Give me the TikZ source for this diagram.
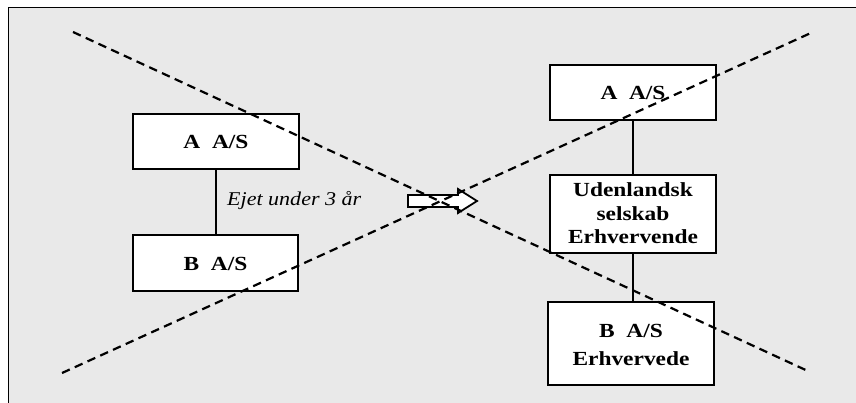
\documentclass[tikz,border=0pt]{standalone}
\usepackage{fontspec}
\usepackage{graphicx}
\setmainfont{Liberation Serif}
\definecolor{panel}{HTML}{E9E9E9}
% slightly widened text, as set in the chart, optionally set a little lower
\newcommand{\wide}[2][0pt]{\raisebox{-#1}[\height][\depth]{\scalebox{1.17}[1]{\begin{tabular}{@{}c@{}}#2\end{tabular}}}}
\tikzset{
  company/.style={draw=black, line width=2.3pt, fill=white, inner sep=0pt,
    font=\fontsize{20}{23.5}\selectfont\bfseries},
  link/.style={draw=black, line width=1.6pt},
  cross/.style={draw=black, line width=2.2pt, dash pattern=on 8.5pt off 5.5pt},
  note/.style={font=\fontsize{19.5}{23}\selectfont\itshape, inner sep=0pt},
  blockarrow/.style={draw=black, line width=1.8pt, fill=white, line join=miter}
}
\begin{document}
\begin{tikzpicture}[x=1pt, y=-1pt]
  \useasboundingbox (0,0) rectangle (856,403);
  % panel with its left and top border
  \fill[panel] (8.5,7.5) rectangle (856,403);
  \draw[line width=1.8pt] (8.5,403) -- (8.5,7.5) -- (856,7.5);

  % left structure
  \node[company, minimum width=166pt, minimum height=55pt] (aL) at (216,141.5) {\wide[2.5pt]{A~~A/S}};
  \node[company, minimum width=165pt, minimum height=56pt] (bL) at (215.5,263) {\wide[2.5pt]{B~~A/S}};
  \draw[link] (aL.south) -- (aL.south |- bL.north);
  \node[note, anchor=base west] (own) at (227,205.5) {\scalebox{1.13}[1]{Ejet under 3 år}};

  % right structure
  \node[company, minimum width=166pt, minimum height=55pt] (aR) at (633,92.5) {\wide[2.5pt]{A~~A/S}};
  \node[company, minimum width=166pt, minimum height=78pt] (uR) at (633,214) {\wide[1.5pt]{Udenlandsk\\selskab\\Erhvervende}};
  \node[company, minimum width=166pt, minimum height=83pt] (bR) at (631,343.5) {\wide[3pt]{B~~A/S\\[4.5pt]Erhvervede}};
  \draw[link] (aR.south) -- (uR.north);
  \draw[link] (uR.south) -- (uR.south |- bR.north);

  % block arrow between the two structures
  \draw[blockarrow] (408,195) -- (458,195) -- (458,189) -- (477,201)
    -- (458,213) -- (458,207) -- (408,207) -- cycle;

  % crossing dashed lines
  \coordinate (c1s) at (73,32);
  \coordinate (c1e) at (810,372);
  \coordinate (c2s) at (62,373);
  \coordinate (c2e) at (813,32);
  \draw[cross] (c1s) -- (c1e);
  \draw[cross] (c2s) -- (c2e);
\end{tikzpicture}
\end{document}
